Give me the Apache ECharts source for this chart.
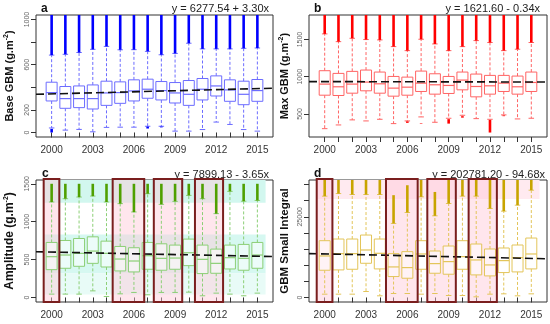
<!DOCTYPE html>
<html>
<head>
<meta charset="utf-8">
<script src="https://cdn.jsdelivr.net/npm/echarts@6/dist/echarts.min.js"></script>
<style>html,body{margin:0;padding:0;background:#fff}#c{width:550px;height:324px}</style>
</head>
<body>
<div id="c"></div>
<script>
// ---------- data ----------
const years = [2000,2001,2002,2003,2004,2005,2006,2007,2008,2009,2010,2011,2012,2013,2014,2015];
const xLabelYears = [2000,2003,2006,2009,2012,2015];

// Panel a: Base GBM
const aLow  = [40,21,27,6,45,47,47,55,55,12,12,26,92,71,26,12];
const aQ1   = [279,214,220,208,240,258,279,303,288,261,240,288,323,276,246,276];
const aMed  = [353,300,300,300,350,353,368,383,371,350,338,383,412,377,338,371];
const aQ3   = [445,407,412,421,454,448,466,472,451,442,460,478,501,466,454,469];
const aHigh = [685,692,708,736,762,732,733,718,688,700,790,740,740,740,745,748];
const aTop  = [1040,1040,1040,1040,1040,1040,1040,1040,1040,1040,1040,1040,1040,1040,1040,1040];
const aLowOut = [[2000,0,32],[2007,35,52],[2008,45,52]];
const aReg  = [[1998.86,338],[2016.14,392]];
const aTicks = [0,200,400,600,800,1000];
const aLabels = [0,200,600,1000];

// Panel b: Max GBM
const bLow  = [302,352,420,406,428,370,406,460,388,442,482,437,428,487,433,442];
const bQ1   = [752,748,779,811,779,739,752,802,766,775,824,730,766,802,766,802];
const bMed  = [901,865,901,928,905,847,860,914,892,883,955,869,878,914,865,923];
const bQ3   = [1081,1045,1072,1090,1063,1004,995,1076,1040,1004,1063,1036,1018,1018,1009,1063];
const bHigh = [1576,1472,1517,1500,1495,1405,1351,1504,1441,1351,1405,1486,1460,1351,1370,1460];
const bTop  = [1830,1830,1830,1830,1830,1830,1830,1830,1830,1830,1830,1830,1830,1830,1830,1830];
const bLowOut = [[2006,380,400],[2007,368,375],[2009,370,430],[2010,450,470],[2012,250,420],[2013,470,480]];
const bReg  = [[1998.86,935],[2016.14,929]];
const bTicks = [500,1000,1500];
const bLabels = [500,1000,1500];

// Panel c: Amplitude
const cLow  = [44,44,44,87,13,48,66,35,66,66,70,22,57,44,22,57];
const cQ1   = [367,385,411,450,402,350,337,372,359,372,420,315,319,376,359,385];
const cMed  = [538,560,582,612,582,507,481,551,516,520,590,503,450,525,516,560];
const cQ3   = [726,752,778,800,743,673,656,726,708,691,770,691,638,691,700,726];
const cHigh = [1260,1303,1325,1338,1260,1238,1128,1369,1229,1268,1347,1303,1106,1400,1270,1280];
const cTop  = [1500,1500,1500,1500,1500,1500,1500,1500,1500,1500,1500,1500,1500,1500,1500,1500];
const cReg  = [[1998.86,603],[2016.14,540]];
const cTicks = [0,500,1000,1500];
const cLabels = [0,500,1000,1500];

// Panel d: GBM Small Integral
const dLow  = [1030,1030,1030,1850,515,1235,1235,1030,1235,617,617,206,1030,1130,515,1130];
const dQ1   = [8438,8541,8747,10600,8850,6483,5968,8747,7512,7203,8747,6997,6689,7718,7923,8850];
const dMed  = [12862,13583,13583,14715,13686,9467,9260,13480,10496,11113,12657,11628,10084,11422,12348,13480];
const dQ3   = [17596,18110,18110,19345,18110,13583,14200,17596,14406,15950,17596,16567,15023,15332,16258,18419];
const dHigh = [31385,32200,31900,31900,31900,22950,26340,31180,25300,29120,31385,31385,27580,26750,28600,33240];
const dTop  = [36400,36400,36400,36400,36400,31700,34780,36400,32700,36400,36400,36400,36400,36400,36400,36400];
const dReg  = [[1998.86,13600],[2016.14,12000]];
const dTicks = [0,5000,10000,15000,20000,25000,30000,35000];
const dLabels = [0,25000];

// highlighted year groups (panels c, d)
const groupSpans = [[1999.42,2000.56],[2004.45,2006.75],[2007.45,2009.52],[2010.45,2012.5]];

// ---------- chart ----------
const X_MIN = 1998.86, X_MAX = 2016.14;
const FONT = 'Liberation Sans';

const panels = [
  {grid:{left:36,top:15,width:237,height:122}, yMin:-40, yMax:1040, ticks:aTicks, labels:aLabels,
   name:'{t|Base GBM (g.m}{s|-2}{t|)}', nameGap:19, tsize:11,
   box:'#6c6cff', out:'#0000ff', fill:'#ffffff',
   low:aLow,q1:aQ1,med:aMed,q3:aQ3,high:aHigh,top:aTop,lowOut:aLowOut,reg:aReg,
   tag:'a', tagX:41, tagY:3, eq:'y = 6277.54 + 3.30x', eqX:269, eqY:3},
  {grid:{left:309,top:15,width:238,height:122}, yMin:190, yMax:1830, ticks:bTicks, labels:bLabels,
   name:'{t|Max GBM (g.m}{s|-2}{t|)}', nameGap:17, tsize:11,
   box:'#ff6464', out:'#ff0000', fill:'#ffffff',
   low:bLow,q1:bQ1,med:bMed,q3:bQ3,high:bHigh,top:bTop,lowOut:bLowOut,reg:bReg,
   tag:'b', tagX:314, tagY:3, eq:'y = 1621.60 - 0.34x', eqX:540, eqY:3},
  {grid:{left:36,top:180,width:237,height:122}, yMin:-60, yMax:1550, ticks:cTicks, labels:cLabels,
   name:'{t|Amplitude (g.m}{s|-2}{t|)}', nameGap:19, tsize:12,
   box:'#8ccf76', out:'#4fa000', fill:'rgba(255,255,255,0.55)',
   low:cLow,q1:cQ1,med:cMed,q3:cQ3,high:cHigh,top:cTop,lowOut:[],reg:cReg,
   tag:'c', tagX:42, tagY:168, eq:'y = 7899.13 - 3.65x', eqX:269, eqY:169,
   bands:[[1250,1550,'#d2f7ef'],[320,830,'#d6f8f1'],[40,320,'#e8fbf7']],
   groups:true},
  {grid:{left:309,top:180,width:238,height:122}, yMin:-1400, yMax:36400, ticks:dTicks, labels:dLabels,
   name:'{t|GBM Small Integral}', nameGap:17, tsize:11.5,
   box:'#e3c55a', out:'#c8a400', fill:'rgba(255,255,255,0.55)',
   low:dLow,q1:dQ1,med:dMed,q3:dQ3,high:dHigh,top:dTop,lowOut:[],reg:dReg,
   tag:'d', tagX:314, tagY:168, eq:'y = 202781.20 - 94.68x', eqX:545, eqY:169,
   bands:[[30500,36400,'#ffeaf0']],
   groups:true}
];

function boxRender(color, fill, outColor){
  return function(params, api){
    const x = api.value(0);
    const pLo = api.coord([x, api.value(1)]);
    const pQ1 = api.coord([x, api.value(2)]);
    const pMd = api.coord([x, api.value(3)]);
    const pQ3 = api.coord([x, api.value(4)]);
    const pHi = api.coord([x, api.value(5)]);
    const pTop = api.coord([x, api.value(6)]);
    const hw = api.size([0.8, 0])[0] / 2, sw = hw / 2, cx = pMd[0];
    const dash = {stroke:color, lineWidth:1, lineDash:[3,2]};
    const solid = {stroke:color, lineWidth:1};
    return {type:'group', children:[
      {type:'line', shape:{x1:cx,y1:pQ1[1],x2:cx,y2:pLo[1]}, style:dash},
      {type:'line', shape:{x1:cx,y1:pQ3[1],x2:cx,y2:pHi[1]}, style:dash},
      {type:'line', shape:{x1:cx-sw,y1:pLo[1],x2:cx+sw,y2:pLo[1]}, style:solid},
      {type:'line', shape:{x1:cx-sw,y1:pHi[1],x2:cx+sw,y2:pHi[1]}, style:solid},
      {type:'rect', shape:{x:cx-hw,y:pQ3[1],width:2*hw,height:pQ1[1]-pQ3[1]}, style:{stroke:color,fill:fill,lineWidth:1}},
      {type:'line', shape:{x1:cx-hw,y1:pMd[1],x2:cx+hw,y2:pMd[1]}, style:{stroke:color,lineWidth:1.2}},
      {type:'line', shape:{x1:cx,y1:pHi[1],x2:cx,y2:pTop[1]}, style:{stroke:outColor,lineWidth:2.6}}
    ]};
  };
}
function outRender(color){
  return function(params, api){
    const x = api.value(0);
    const p1 = api.coord([x, api.value(1)]);
    const p2 = api.coord([x, api.value(2)]);
    return {type:'line', shape:{x1:p1[0],y1:p1[1],x2:p2[0],y2:p2[1]}, style:{stroke:color,lineWidth:2.6}};
  };
}
function borderRender(ymin, ymax){
  return function(params, api){
    const p1 = api.coord([api.value(0), ymax]);
    const p2 = api.coord([api.value(1), ymin]);
    return {type:'rect', shape:{x:p1[0],y:p1[1]-1,width:p2[0]-p1[0],height:p2[1]-p1[1]+1},
            style:{fill:'rgba(0,0,0,0)',stroke:'#7a1e1e',lineWidth:2}};
  };
}
const plain = v => String(v);

const option = {animation:false, textStyle:{fontFamily:FONT}, grid:[], xAxis:[], yAxis:[], series:[], graphic:[]};

panels.forEach((p, i) => {
  option.grid.push(Object.assign({show:true, borderColor:'#333', borderWidth:1, containLabel:false}, p.grid));
  option.xAxis.push({type:'value', gridIndex:i, min:X_MIN, max:X_MAX,
    axisLine:{show:false}, splitLine:{show:false},
    axisTick:{show:true, customValues:years, length:5, lineStyle:{color:'#333'}},
    axisLabel:{customValues:xLabelYears, formatter:plain, fontSize:10, color:'#333', margin:8, fontFamily:FONT}});
  option.yAxis.push({type:'value', gridIndex:i, min:p.yMin, max:p.yMax,
    axisLine:{show:false}, splitLine:{show:false},
    axisTick:{show:true, customValues:p.ticks, length:5, lineStyle:{color:'#333'}},
    axisLabel:{customValues:p.labels, formatter:plain, rotate:90, fontSize:7, color:'#666', margin:5, fontFamily:FONT},
    name:p.name, nameLocation:'middle', nameGap:p.nameGap, nameRotate:90,
    nameTextStyle:{rich:{t:{fontSize:p.tsize, fontWeight:'bold', color:'#111', fontFamily:FONT, lineHeight:14},
                         s:{fontSize:7, fontWeight:'bold', color:'#111', fontFamily:FONT, verticalAlign:'top', lineHeight:14}}}});
  // background shading via markArea
  if (p.bands || p.groups){
    const areas = [];
    (p.bands || []).forEach(b => areas.push([{xAxis:1999.4, yAxis:b[1], itemStyle:{color:b[2]}}, {xAxis:2015.6, yAxis:b[0]}]));
    if (p.groups) groupSpans.forEach(g => areas.push([{xAxis:g[0], yAxis:p.yMax, itemStyle:{color:'rgba(255,200,214,0.45)'}}, {xAxis:g[1], yAxis:p.yMin}]));
    option.series.push({type:'line', xAxisIndex:i, yAxisIndex:i, z:0, data:[], silent:true,
      markArea:{silent:true, data:areas}});
  }
  option.series.push({type:'custom', xAxisIndex:i, yAxisIndex:i, z:3, clip:true,
    data:years.map((y,k)=>[y,p.low[k],p.q1[k],p.med[k],p.q3[k],p.high[k],p.top[k]]),
    encode:{x:0, y:[1,2,3,4,5,6]}, renderItem:boxRender(p.box, p.fill, p.out)});
  if (p.lowOut.length){
    option.series.push({type:'custom', xAxisIndex:i, yAxisIndex:i, z:4, clip:true,
      data:p.lowOut, encode:{x:0, y:[1,2]}, renderItem:outRender(p.out)});
  }
  option.series.push({type:'line', xAxisIndex:i, yAxisIndex:i, z:5, data:p.reg, symbol:'none',
    lineStyle:{color:'#111', width:1.6, type:[8,4]}});
  if (p.groups){
    option.series.push({type:'custom', xAxisIndex:i, yAxisIndex:i, z:6, silent:true, clip:false,
      data:groupSpans, encode:{x:[0,1]}, renderItem:borderRender(p.yMin, p.yMax)});
  }
  option.graphic.push({type:'text', left:p.tagX, top:p.tagY, style:{text:p.tag, font:'bold 12px ' + FONT, fill:'#111'}});
  option.graphic.push({type:'text', right:550 - p.eqX, top:p.eqY, style:{text:p.eq, font:'11px ' + FONT, fill:'#222'}});
});

const chart = echarts.init(document.getElementById('c'), null, {renderer:'canvas'});
chart.setOption(option);
</script>
</body>
</html>
